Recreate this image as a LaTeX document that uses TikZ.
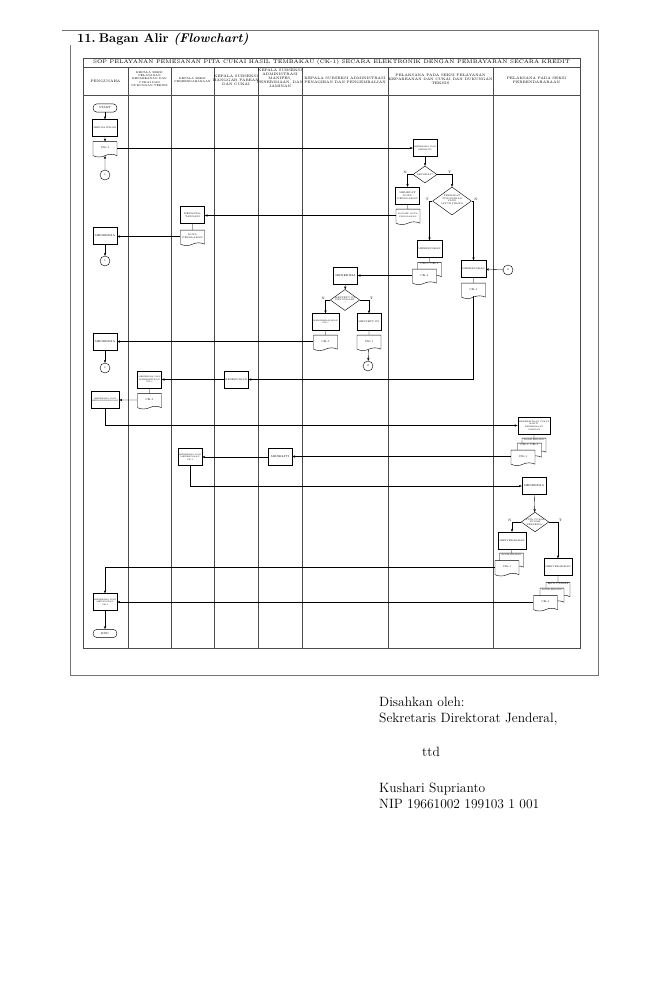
\documentclass[tikz,border=0pt]{standalone}
\usepackage{fontspec}
\usetikzlibrary{arrows.meta, positioning, shapes.geometric, shapes.symbols}

\newcommand{\chartfont}{\fontsize{2.3}{2.7}\selectfont}
\newcommand{\midfont}{\fontsize{2}{2.5}\selectfont}
\newcommand{\narrowfont}{\fontsize{1.7}{2.2}\selectfont}
\newcommand{\headfont}{\fontsize{3}{3.5}\selectfont}
\newcommand{\smallhead}{\fontsize{2.3}{2.8}\selectfont}
\newcommand{\decfont}{\fontsize{1.9}{2.2}\selectfont}
\newcommand{\tophead}[1]{\smash{\raisebox{1.3mm}{#1}}}

\tikzset{
  every node/.style={font=\chartfont},
  proc/.style={
    draw=black, fill=white, line width=0.35pt,
    minimum width=7.2mm, minimum height=5.1mm,
    inner sep=0.3mm, align=center
  },
  doc/.style={
    draw=black, fill=white, line width=0.35pt,
    tape, tape bend top=none, tape bend height=0.8mm,
    minimum width=7.2mm, minimum height=4.6mm,
    inner sep=0.3mm, align=center
  },
  dec/.style={
    draw=black, fill=white, line width=0.35pt, diamond, aspect=1.4,
    minimum width=7.2mm, minimum height=5.1mm,
    inner sep=0pt, align=center, font=\decfont
  },
  conn/.style={
    draw=black, fill=white, line width=0.35pt, circle,
    minimum size=3mm, inner sep=0pt
  },
  term/.style={
    draw=black, fill=white, line width=0.35pt, rounded corners=1.2mm,
    minimum width=7.2mm, minimum height=2.5mm, inner sep=0pt
  },
}

\begin{document}
\begin{tikzpicture}[
    x=0.3mm, y=-0.3mm,
    grid/.style={draw=black!70, line width=0.45pt},
    frame/.style={draw=black!55, line width=0.5pt},
    flow/.style={line width=0.3pt},
    arr/.style={flow, -{Stealth[length=0.9mm,width=0.7mm]}},
    yn/.style={font=\fontsize{2.8}{3}\selectfont, inner sep=0.5pt}
  ]
  \useasboundingbox (0,0) rectangle (654,1000);

  % Page frame and heading
  \draw[frame] (62,30) -- (598,30) -- (598,675) -- (70,675) -- (70,45);
  \node[anchor=west, font=\fontsize{10.8}{12}\selectfont\bfseries] (judul) at (73,39)
    {11.\hspace{0.25em}Bagan Alir \textit{(Flowchart)}};

  % Table
  \draw[grid] (83,58) rectangle (580,648);
  \draw[grid] (83,67) -- (580,67);
  \draw[grid] (83,95) -- (580,95);
  \foreach \x in {128,171,214,258,302,388,493}
    \draw[grid] (\x,67) -- (\x,648);

  \node[font=\fontsize{4.5}{5}\selectfont] (sop) at (331.5,62.5)
    {SOP PELAYANAN PEMESANAN PITA CUKAI HASIL TEMBAKAU (CK-1) SECARA ELEKTRONIK DENGAN PEMBAYARAN SECARA KREDIT};

  % Column heads
  \node[font=\headfont] (h1) at (105.5,81) {PENGUSAHA};
  \node[font=\smallhead, align=center] (h2) at (149.5,79)
    {KEPALA SEKSI\\PELAYANAN\\KEPABEANAN DAN\\CUKAI DAN\\DUKUNGAN TEKNIS};
  \node[font=\smallhead, align=center] (h3) at (192.5,80)
    {KEPALA SEKSI\\PERBENDAHARAAN};
  \node[font=\headfont, align=center] (h4) at (236,80)
    {KEPALA SUBSEKSI\\HANGGAR PABEAN\\DAN CUKAI};
  \node[font=\headfont, align=center] (h5) at (280,78)
    {KEPALA SUBSEKSI\\ADMINISTRASI\\MANIFES,\\PENERIMAAN, DAN\\JAMINAN};
  \node[font=\headfont, align=center] (h6) at (345,80)
    {KEPALA SUBSEKSI ADMINISTRASI\\PENAGIHAN DAN PENGEMBALIAN};
  \node[font=\headfont, align=center] (h7) at (440.5,79)
    {PELAKSANA PADA SEKSI PELAYANAN\\KEPABEANAN DAN CUKAI DAN DUKUNGAN\\TEKNIS};
  \node[font=\headfont, align=center] (h8) at (536.5,80)
    {PELAKSANA PADA SEKSI\\PERBENDAHARAAN};

  % Request and first check
  \node[term] (mulai) at (105,108) {START};
  \node[proc, font=\midfont] (ajukan) at (105,128) {MENGAJUKAN};
  \node[doc] (ckA) at (105,148) {CK-1};
  \node[conn] (satuA) at (105,175) {1};

  \node[proc, font=\narrowfont] (teliti) at (425,148) {MENERIMA DAN\\MENELITI};
  \node[dec] (lengkap) at (425,174.5) {LENGKAP?};
  \node[proc, font=\midfont] (tolak) at (407.5,195.5) {MEMBUAT\\NOTA\\PENOLAKAN};
  \node[doc, font=\narrowfont] (konsep) at (408,215.5) {KONSEP NOTA\\PENOLAKAN};
  \node[dec, minimum width=10.2mm, minimum height=8.4mm] (tunggak) at (452,201)
    {TERDAPAT\\TUNGGAKAN\\YANG\\JATUH TEMPO\\?};

  \node[proc, font=\midfont] (tandatangan) at (192.5,215) {MENANDA-\\TANGANI};
  \node[doc, font=\midfont] (nota) at (192.5,236.5) {NOTA\\PENOLAKAN};
  \node[proc] (terimaA) at (105,235.5) {MENERIMA};
  \node[conn] (satuB) at (105,261) {1};

  % Forwarding
  \node[proc, font=\midfont] (lanjutA) at (429.5,249) {MENERUSKAN};
  \node[doc] (ckBb) at (429.5,269) {\tophead{CK-1 CK-1}};
  \node[doc] (ckB) at (424.5,275.5) {CK-1};
  \node[proc, font=\midfont] (lanjutB) at (473.5,269) {MENERUSKAN};
  \node[conn] (duaA) at (508,270) {2};
  \node[doc] (ckC) at (473.5,289.5) {CK-1};

  % Deferral decision
  \node[proc] (terimaB) at (345.5,275.5) {MENERIMA};
  \node[dec] (tunda) at (345,300) {MENYETUJUI\\PENUNDAAN\\?};
  \node[proc, font=\narrowfont] (balik) at (325.5,322) {MENGEMBALIKAN\\CK-1};
  \node[doc] (ckD) at (325.5,341.5) {CK-1};
  \node[proc, font=\midfont] (setuju) at (369,322) {MENYETUJUI};
  \node[doc] (ckE) at (369,341.5) {CK-1};
  \node[conn] (duaB) at (368,366) {2};
  \node[proc] (terimaC) at (105,342) {MENERIMA};
  \node[conn] (satuC) at (105,368) {1};

  % Issue and sign
  \node[proc, font=\midfont] (lanjutC) at (236,379.5) {MENERUSKAN};
  \node[proc, font=\narrowfont] (terbit) at (149.5,379.5) {MENERIMA DAN\\MENERBITKAN\\CK-1};
  \node[doc] (ckF) at (149.5,400) {CK-1};
  \node[proc, font=\narrowfont] (tanda) at (105,400) {MENERIMA DAN\\MENANDATANGANI};

  % Guarantee and billing
  \node[proc, font=\narrowfont] (bukti) at (534,425.5)
    {MENERBITKAN SURAT\\BUKTI\\PENERIMAAN\\JAMINAN};
  \node[doc, font=\narrowfont] (kodeA) at (534,444.5) {\tophead{KODE BILLING}};
  \node[doc] (ckGb) at (529.5,449.5) {\tophead{CK-1 CK-1}};
  \node[doc] (ckG) at (523,456.5) {CK-1};
  \node[proc] (rekam) at (280,457) {MENELITI};
  \node[proc, font=\narrowfont] (teruskan) at (190,457) {MENERIMA DAN\\MENERUSKAN\\CK-1};
  \node[proc] (terimaD) at (534,486) {MENERIMA};

  % Stamp availability
  \node[dec] (pita) at (535,522) {PITA CUKAI\\SUDAH\\TERSEDIA?};
  \node[proc, font=\midfont] (serahN) at (512,540.5) {MENYERAHKAN};
  \node[doc, font=\narrowfont] (kodeB) at (511.5,559.5) {\tophead{KODE BILLING}};
  \node[doc] (ckH) at (507,567) {CK-1};
  \node[proc, font=\midfont] (serahT) at (558,567) {MENYERAHKAN};
  \node[doc] (bpsA) at (558,589) {\tophead{BPS CUKAI}};
  \node[doc, font=\narrowfont] (kodeC) at (552,594.5) {\tophead{KODE BILLING}};
  \node[doc] (ckI) at (545.5,602) {CK-1};

  \node[proc, font=\narrowfont] (simpan) at (105,602) {MENERIMA DAN\\MENYIMPAN\\CK-1};
  \node[term] (selesai) at (105,633.5) {END};

  % Connectors
  \draw[arr] (mulai) -- (ajukan);
  \draw[arr] (ajukan) -- (ckA);
  \draw[arr] (satuA) -- (ckA);
  \draw[arr] (ckA.east) -- (teliti.west);
  \draw[arr] (teliti) -- (lengkap);
  \draw[arr] (lengkap.west) -| node[yn, pos=0.5, above left] (ynA) {N} (tolak.north);
  \draw[arr] (lengkap.east) -| node[yn, pos=0.5, above left] (ynB) {T} (tunggak.north);
  \draw[flow] (tolak) -- (konsep);
  \draw[arr] (konsep.west) -- (konsep.west -| tandatangan.east);
  \draw[flow] (tandatangan) -- (nota);
  \draw[arr] (nota.west) -- (nota.west -| terimaA.east);
  \draw[arr] (terimaA) -- (satuB);

  \draw[arr] (tunggak.west) -| node[yn, pos=0.5, above left] (ynC) {T} (lanjutA.north);
  \draw[arr] (tunggak.east) -| node[yn, pos=0.5, above right] (ynD) {N} (lanjutB.north);
  \draw[flow] (lanjutA) -- (ckBb);
  \draw[arr] (ckB.west) -- (ckB.west -| terimaB.east);
  \draw[arr] (duaA) -- (lanjutB);
  \draw[flow] (lanjutB) -- (ckC);

  \draw[arr] (terimaB) -- (tunda);
  \draw[arr] (tunda.west) -| node[yn, pos=0.5, above left] (ynE) {N} (balik.north);
  \draw[arr] (tunda.east) -| node[yn, pos=0.5, above right] (ynF) {T} (setuju.north);
  \draw[flow] (balik) -- (ckD);
  \draw[arr] (ckD.west) -- (ckD.west -| terimaC.east);
  \draw[arr] (terimaC) -- (satuC);
  \draw[flow] (setuju) -- (ckE);
  \draw[arr] (ckE) -- (duaB);

  \draw[arr] (ckC.south) |- (lanjutC.east);
  \draw[arr] (lanjutC) -- (terbit);
  \draw[flow] (terbit) -- (ckF);
  \draw[arr] (ckF) -- (tanda);

  \draw[arr] (tanda.south) |- (bukti.west);
  \draw[flow] (bukti) -- (kodeA);
  \draw[arr] (ckG.west) -- (ckG.west -| rekam.east);
  \draw[arr] (rekam) -- (teruskan);
  \draw[arr] (teruskan.south) |- (terimaD.west);
  \draw[arr] (terimaD) -- (pita);

  \draw[arr] (pita.west) -| node[yn, pos=0.5, above left] (ynG) {N} (serahN.north);
  \draw[arr] (pita.east) -| node[yn, pos=0.5, above right] (ynH) {T} (serahT.north);
  \draw[flow] (serahN) -- (kodeB);
  \draw[flow] (serahT) -- (bpsA);
  \draw[arr] (ckH.west) -| (simpan.north);
  \draw[arr] (ckI.west) -- (ckI.west -| simpan.east);
  \draw[arr] (simpan) -- (selesai);

  % Approval
  \begin{scope}[every node/.style={anchor=base west, font=\fontsize{11.5}{13}\selectfont, inner sep=0pt}]
    \node (sahA) at (379,706) {Disahkan oleh:};
    \node (sahB) at (379,722) {Sekretaris Direktorat Jenderal,};
    \node (sahC) at (422,756) {ttd};
    \node (sahD) at (379,792) {Kushari Suprianto};
    \node (sahE) at (379,808) {NIP 19661002 199103 1 001};
  \end{scope}
\end{tikzpicture}
\end{document}
